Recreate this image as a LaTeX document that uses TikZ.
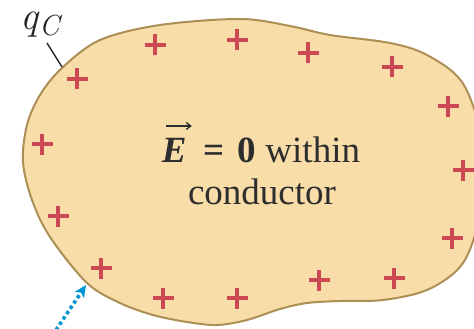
\documentclass[tikz,border=0pt]{standalone}
\usepackage{fontspec}
\setmainfont{Liberation Serif}
\newfontfamily\lmfont{Latin Modern Roman}
\usetikzlibrary{arrows.meta}
\definecolor{blobfill}{RGB}{248,221,168}
\definecolor{blobline}{RGB}{172,143,84}
\definecolor{plusred}{RGB}{204,72,82}
\definecolor{txt}{RGB}{45,45,45}
\definecolor{arrblue}{RGB}{0,150,210}
\tikzset{
  plussign/.style={draw=plusred, line width=3.3pt},
  maintext/.style={text=txt, font=\fontsize{37}{46}\selectfont, align=center, inner sep=0pt},
  leader/.style={draw=black!85, line width=1.4pt},
  vecarrow/.style={draw=txt, line width=1.3pt, -{Straight Barb[length=4.5pt,width=7pt]}},
  dotarrow/.style={draw=arrblue, line width=3.6pt, dash pattern=on 3.4pt off 3pt, -{Stealth[length=12pt,width=11pt,inset=3pt]}}
}
\begin{document}
\begin{tikzpicture}[x=1pt,y=-1pt]
\useasboundingbox (0,0) rectangle (474,329);
\clip (0,0) rectangle (474,329);
% conductor
\draw[fill=blobfill, draw=blobline, line width=2pt]
  plot[smooth cycle, tension=0.55] coordinates {
  (62,68) (100,40) (160,25) (240,19) (290,26) (330,35) (390,43) (427,55)
  (462,82) (482,135) (487,180) (476,232) (460,267) (427,290) (383,300)
  (340,301) (307,303) (280,309) (247,320) (217,325) (187,322) (153,315)
  (120,303) (87,283) (50,237) (32,200) (23,162) (27,125) (40,95)};
% charges
\foreach \p in {(77,79),(155,45),(237,40),(308,53),(392,67),(448,106),(463,170),(452,238),(394,278),(319,280),(237,298),(163,298),(101,268),(58,216),(42,144)}{
  \path \p coordinate (pc);
  \draw[plussign] ([xshift=-10.5pt]pc) -- ([xshift=10.5pt]pc) ([yshift=-10.5pt]pc) -- ([yshift=10.5pt]pc);
}
% text
\node[maintext, anchor=base] (line1) at (261,162) {\textbf{\textit{E}}\hspace{17pt}\textbf{=}\hspace{13pt}\textbf{0} within};
\node[maintext, anchor=base] (line2) at (262,204) {conductor};
\coordinate (vecstart) at (line1.west |- 0,126);
\draw[vecarrow] ([xshift=4pt]vecstart) -- ([xshift=30pt]vecstart);
% label qC
\node[text=black!85, inner sep=0pt, anchor=base west, text height=17pt, text depth=9pt] (qC) at (20,30) {\lmfont\itshape\fontsize{40}{40}\selectfont q\kern1pt\raisebox{-6pt}{\fontsize{29}{29}\selectfont C}};
\coordinate (qCend) at (62,67);
\coordinate (qCstart) at (47,43);
\draw[leader] (qCstart) -- (qCend);
% dotted arrow
\coordinate (arrstart) at (56,330);
\coordinate (arrtip) at (86,285);
\draw[dotarrow] (arrstart) -- (arrtip);
\end{tikzpicture}
\end{document}
